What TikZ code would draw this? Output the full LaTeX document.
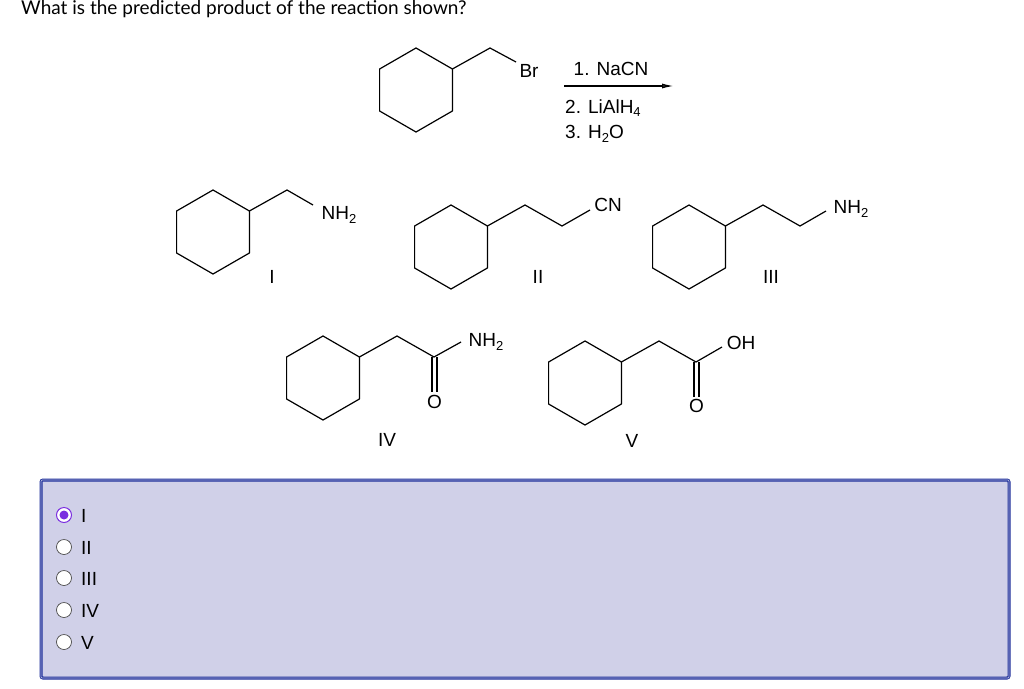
\documentclass[tikz,border=0pt]{standalone}
\usetikzlibrary{arrows.meta}
\usepackage{fontspec}
\setmainfont{Liberation Sans}
\newfontfamily\latofont{Lato}
\definecolor{boxfill}{HTML}{D0D0E8}
\definecolor{boxline}{HTML}{1F2F9A}
\definecolor{sel}{HTML}{7B2FE0}
\newcommand{\sbs}[1]{\raisebox{-0.35ex}{\fontsize{13}{13}\selectfont #1}}
\begin{document}
\begin{tikzpicture}[x=1pt,y=-1pt,
  bond/.style={line width=1.2pt,line join=round},
  atom/.style={inner sep=0pt,font=\fontsize{19}{19}\selectfont},
  rlab/.style={inner sep=0pt,font=\fontsize{19}{19}\selectfont},
  radio/.style={circle,draw=black!70,fill=white,minimum size=15pt,inner sep=0pt,line width=0.7pt},
  opt/.style={anchor=west,inner sep=0pt,font=\fontsize{19}{19}\selectfont}]
\useasboundingbox (0,0) rectangle (1024,688);
\fill[white] (0,0) rectangle (1024,688);
\node[anchor=north west,inner sep=0pt,font=\latofont\fontsize{19}{19}\selectfont] (title) at (21,0) {What is the predicted product of the reaction shown?};
\def\ring#1#2{\draw[bond] (#1,#2-42) -- (#1+36.4,#2-21) -- (#1+36.4,#2+21) -- (#1,#2+42) -- (#1-36.4,#2+21) -- (#1-36.4,#2-21) -- cycle;}
% reactant
\ring{416}{90}
\draw[bond] (452.4,69) -- (490,48) -- (516,62);
\node[atom] (br) at (529,71) {Br};
\node[atom] (r1) at (611,69) {1. NaCN};
\coordinate (a1) at (564,86); \coordinate (a2) at (674,86);
\draw[line width=1.4pt,-{Latex[length=12pt,width=5pt,fill=gray]}] (a1) -- (a2);
\node[atom,anchor=west] (r2) at (565,108) {2. LiAlH\sbs{4}};
\node[atom,anchor=west] (r3) at (565,134) {3. H\sbs{2}O};
% I
\ring{213}{232}
\draw[bond] (249.4,211) -- (287,190) -- (313,205);
\node[atom] (n1) at (339,215) {NH\sbs{2}};
\node[rlab] (l1) at (272,277) {I};
% II
\ring{451}{247}
\draw[bond] (487.4,226) -- (525,205) -- (562,226) -- (590,210);
\node[atom] (cn) at (608,205) {CN};
\node[rlab] (l2) at (538,277) {II};
% III
\ring{689}{247}
\draw[bond] (725.4,226) -- (763,205) -- (800,226) -- (826,211);
\node[atom] (n3) at (851,209) {NH\sbs{2}};
\node[rlab] (l3) at (771,277) {III};
% IV
\ring{323}{378}
\draw[bond] (359.4,357) -- (397,336) -- (434,357) -- (461,342);
\draw[bond] (432,357) -- (432,392);
\draw[bond] (437,357) -- (437,392);
\node[atom] (n4) at (486,342) {NH\sbs{2}};
\node[atom] (o4) at (434.5,402) {O};
\node[rlab] (l4) at (387,440) {IV};
% V
\ring{585}{383}
\draw[bond] (621.4,362) -- (659,341) -- (696,362) -- (722,347);
\draw[bond] (694,362) -- (694,397);
\draw[bond] (699,362) -- (699,397);
\node[atom] (oh) at (741,343) {OH};
\node[atom] (o5) at (696.5,406) {O};
\node[rlab] (l5) at (632,441) {V};
% answer box
\draw[draw=boxline,line width=3pt,rounded corners=2pt,fill=boxfill] (41,480) rectangle (1009,678);
\draw[draw=white!70!boxline,line width=0.7pt,rounded corners=1pt] (41,480) rectangle (1009,678);
\node[radio,draw=sel,line width=1pt] (c1) at (64,515) {};
\fill[sel] (c1) circle (4.5pt);
\node[radio] (c2) at (64,547) {};
\node[radio] (c3) at (64,578) {};
\node[radio] (c4) at (64,610) {};
\node[radio] (c5) at (64,642) {};
\node[opt] (o1) at (81,516) {I};
\node[opt] (o2) at (81,548) {II};
\node[opt] (o3) at (81,579) {III};
\node[opt] (oo4) at (81,611) {IV};
\node[opt] (oo5) at (81,643) {V};
\end{tikzpicture}
\end{document}
